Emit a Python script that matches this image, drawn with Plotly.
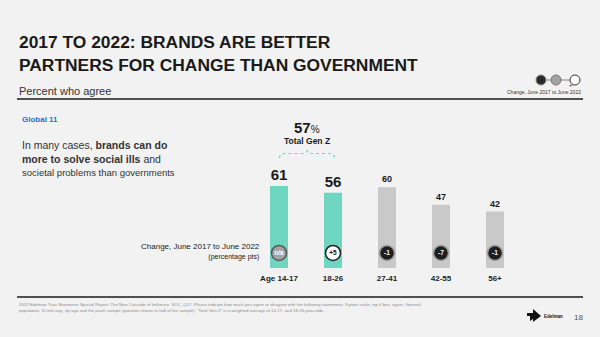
import plotly.graph_objects as go

W, H = 600, 337

# ---- data ----
age_groups = ["Age 14-17", "18-26", "27-41", "42-55", "56+"]
agree_pct = [61, 56, 60, 47, 42]
change_pts = ["n/a", "+5", "-1", "-7", "-1"]
is_gen_z = [True, True, False, False, False]
total_gen_z = 57

TEAL = "#6fd6c1"
GRAY_BAR = "#c9c9c9"
BG = "#f2f2f2"
FONT = "Liberation Sans"

def px(x):
    return x / W

def py(y):
    return 1 - y / H

bar_colors = [TEAL if g else GRAY_BAR for g in is_gen_z]
label_sizes = [15 if g else 9 for g in is_gen_z]

fig = go.Figure()
fig.add_trace(go.Bar(
    x=age_groups, y=agree_pct, marker=dict(color=bar_colors, line=dict(width=0)),
    text=[str(v) for v in agree_pct], textposition="outside",
    textfont=dict(size=label_sizes, color="#1a1a1a", family=FONT, weight="bold"),
    cliponaxis=False, hoverinfo="skip", showlegend=False,
))

# change circles
circ_fill, circ_line, circ_txt = [], [], []
for c in change_pts:
    if c == "n/a":
        circ_fill.append("#a3a3a3"); circ_line.append("#5a5a5a"); circ_txt.append("white")
    elif c.startswith("+"):
        circ_fill.append("#ffffff"); circ_line.append("#222222"); circ_txt.append("#111111")
    else:
        circ_fill.append("#1f1f1f"); circ_line.append("#a0a0a0"); circ_txt.append("white")

CHANGE_ROW = 11.2
fig.add_trace(go.Scatter(
    x=age_groups, y=[CHANGE_ROW] * len(age_groups), mode="markers+text",
    marker=dict(size=15, color=circ_fill, line=dict(color=circ_line, width=1.5)),
    text=change_pts, textposition="middle center",
    textfont=dict(size=6.5, color=circ_txt, family=FONT, weight="bold"),
    cliponaxis=False, hoverinfo="skip", showlegend=False,
))

y0, ppu = 268, 1.344
fig.update_layout(
    width=W, height=H, margin=dict(l=0, r=0, t=0, b=0),
    paper_bgcolor=BG, plot_bgcolor=BG,
    font=dict(family=FONT, color="#222"),
    bargap=0.667,
    xaxis=dict(domain=[px(252), px(522)], showgrid=False, zeroline=False, showline=False,
               ticks="", tickfont=dict(size=8, color="#222", family=FONT, weight="bold"),
               ticklabelstandoff=4, fixedrange=True),
    yaxis=dict(domain=[py(y0), py(y0 - 100 * ppu)], range=[0, 100], visible=False, fixedrange=True),
)

ann = []
def text(x, y, s, size, color="#222", xanchor="left", weight="normal", align="left"):
    ann.append(dict(x=px(x), y=py(y), xref="paper", yref="paper", text=s, showarrow=False,
                    xanchor=xanchor, yanchor="middle", align=align,
                    font=dict(size=size, color=color, family=FONT, weight=weight)))

text(17, 53, "2017 TO 2022: BRANDS ARE BETTER<br>PARTNERS FOR CHANGE THAN GOVERNMENT", 17.4,
     color="#1a1a1a", weight="bold")
text(17, 91, "Percent who agree", 11, color="#333")
text(20, 119, "Global 11", 8, color="#1f6fd1", weight="bold")
text(20, 152, "In many cases, <b>brands can do</b><br><b>more to solve social ills</b> and", 10.5,
     color="#333")
text(20, 172, "societal problems than governments", 9.5, color="#333")
text(307, 127, f"<b>{total_gen_z}</b><span style='font-size:10px'>%</span>", 15, color="#1a1a1a",
     xanchor="center")
text(307, 141, "Total Gen Z", 8.5, color="#1a1a1a", xanchor="center", weight="bold")
text(262, 251, "Change, June 2017 to June 2022<br><span style='font-size:7px'>(percentage pts)</span>",
     8, color="#222", xanchor="right", align="right")
text(583, 92, "Change, June 2017 to June 2022", 5, color="#333", xanchor="right")
text(17, 307, "2022 Edelman Trust Barometer Special Report: The New Cascade of Influence. SOC_Q17. "
     "Please indicate how much you agree or disagree with the following statements. 9-point scale; "
     "top 4 box, agree. General<br>population, 11 mkt avg., by age and the youth sample (question "
     "shown to half of the sample). \"Total Gen Z\" is a weighted average of 14-17- and 18-26-year-olds.",
     4.3, color="#8a8a8a")
text(542, 316, "Edelman", 4.5, color="#111", weight="bold")
text(578, 317, "18", 8, color="#555", xanchor="center")
fig.update_layout(annotations=ann)

shapes = []
# rules
for yy in (99, 297):
    shapes.append(dict(type="line", xref="paper", yref="paper", x0=px(17), x1=px(583),
                       y0=py(yy), y1=py(yy), line=dict(color="#1a1a1a", width=1.6)))
# brace
pts = [(279, 158), (281, 154), (285, 153.5), (305, 153.5), (308, 150.5),
       (311, 153.5), (329, 153.5), (333, 154), (335, 158)]
path = "M " + " L ".join(f"{px(a):.5f},{py(b):.5f}" for a, b in pts)
shapes.append(dict(type="path", xref="paper", yref="paper", path=path,
                   line=dict(color=TEAL, width=1.2, dash="dot")))
# legend line + circles
shapes.append(dict(type="line", xref="paper", yref="paper", x0=px(541), x1=px(575),
                   y0=py(80), y1=py(80), line=dict(color="#888", width=1)))
for cx, fill, ln in [(541, "#2a2a2a", "#888"), (556, "#a3a3a3", "#777"), (575, "#ffffff", "#333")]:
    r = 5
    shapes.append(dict(type="circle", xref="paper", yref="paper", x0=px(cx - r), x1=px(cx + r),
                       y0=py(80 + r), y1=py(80 - r), fillcolor=fill, line=dict(color=ln, width=1)))
# logo
logo = [(527, 313), (533, 313), (533, 309), (541, 316), (533, 322), (533, 319), (530, 321),
        (530, 316), (527, 316)]
shapes.append(dict(type="path", xref="paper", yref="paper",
                   path="M " + " L ".join(f"{px(a):.5f},{py(b):.5f}" for a, b in logo) + " Z",
                   fillcolor="#111", line=dict(width=0)))
fig.update_layout(shapes=shapes)
fig.add_annotation(x=px(575), y=py(80), xref="paper", yref="paper", text="+", showarrow=False,
                   font=dict(size=6, color="#333", family=FONT))

fig.write_html("out.html")
